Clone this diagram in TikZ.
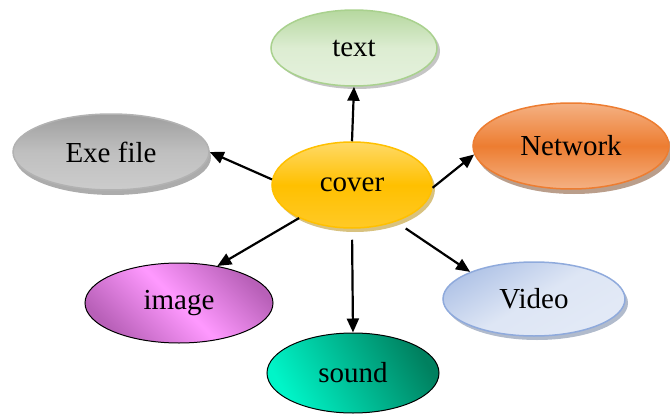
\documentclass[tikz,border=0pt]{standalone}
\usepackage{fontspec}
\setmainfont{Liberation Serif}
\usepackage{tikz}
\usetikzlibrary{shapes.geometric, arrows.meta, shadows}
\tikzstyle{elli}=[ellipse, inner sep=0pt, line width=1.5pt,
					font=\fontsize{29}{32}\selectfont]
\tikzstyle{spoke}=[-{Triangle[length=14pt,width=12pt]}, line width=2.2pt]
\definecolor{greenbd}{HTML}{A9D18E}
\definecolor{goldbd}{HTML}{FFC000}
\definecolor{orangebd}{HTML}{ED7D31}
\definecolor{bluebd}{HTML}{8FAADC}
\definecolor{pinkmid}{HTML}{FF99FF}
\definecolor{pinkedge}{HTML}{B860B8}
\definecolor{tealhi}{HTML}{00F5C8}
\definecolor{tealdk}{HTML}{00805F}

\begin{document}
\begin{tikzpicture}[x=1pt, y=-1pt,
textnode/.style={elli, draw=greenbd, top color=greenbd!85, bottom color=greenbd!30, middle color=greenbd!40,
	drop shadow={shadow xshift=3pt, shadow yshift=-3pt, fill=black!45}},
exenode/.style={elli, draw=black!30, top color=black!38, bottom color=black!20, middle color=black!25,
	drop shadow={shadow xshift=2pt, shadow yshift=-5pt, fill=black!65}},
covernode/.style={elli, draw=goldbd, top color=goldbd!60, bottom color=goldbd!85, middle color=goldbd,
	drop shadow={shadow xshift=3pt, shadow yshift=-4pt, fill=goldbd!70!black}},
networknode/.style={elli, draw=orangebd, top color=orangebd!60, bottom color=orangebd!60, middle color=orangebd,
	drop shadow={shadow xshift=3pt, shadow yshift=-5pt, fill=orangebd!50!black}},
imagenode/.style={elli, draw=black, line width=1pt, left color=pinkedge, right color=pinkedge,
	middle color=pinkmid, shading angle=135},
videonode/.style={elli, draw=bluebd, top color=bluebd!70, bottom color=bluebd!25, middle color=bluebd!30,
	shading angle=30, drop shadow={shadow xshift=3pt, shadow yshift=-4pt, fill=bluebd!70!black}},
soundnode/.style={elli, draw=black, line width=1pt, left color=tealhi, right color=tealdk,
	shading angle=120},
]
\useasboundingbox (0,0) rectangle (670,415);

%Nodes
\node[covernode, minimum width=160pt, minimum height=86pt]   (cover_node)   at (352,185) {cover};
\node[textnode, minimum width=166pt, minimum height=76pt]    (text_node)    at (354,48)  {text};
\node[exenode, minimum width=196pt, minimum height=76pt]     (exe_node)     at (111,152) {Exe file};
\node[networknode, minimum width=196pt, minimum height=86pt] (network_node) at (571,146) {Network};
\node[imagenode, minimum width=188pt, minimum height=80pt]   (image_node)   at (179,303) {image};
\node[videonode, minimum width=182pt, minimum height=74pt]   (video_node)   at (534,299) {Video};
\node[soundnode, minimum width=172pt, minimum height=80pt]   (sound_node)   at (353,373) {sound};

%Lines
\draw[spoke] (cover_node.north) -- (text_node.south);
\draw[spoke] (cover_node.176) -- (exe_node.east);
\draw[spoke] (cover_node.358) -- (network_node.185);
\draw[spoke] (cover_node.212) -- (image_node.44);
\draw[spoke, shorten <=11pt] (cover_node.south) -- (sound_node.north);
\draw[spoke, shorten <=12pt] (cover_node.-40) -- (video_node.157);

\end{tikzpicture}
\end{document}
